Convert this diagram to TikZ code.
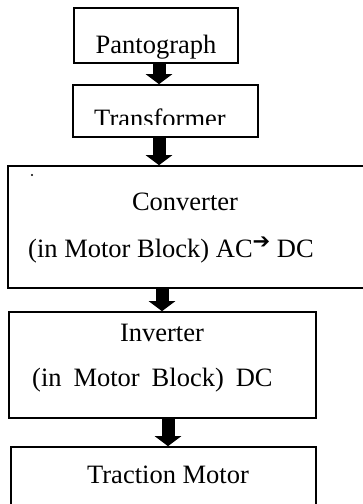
\documentclass[tikz,border=0pt]{standalone}
\usepackage{fontspec}
\setmainfont{Liberation Serif}
\newfontfamily\symfont{DejaVu Sans}
\usetikzlibrary{arrows.meta}

\begin{document}
\begin{tikzpicture}[x=1pt,y=-1pt,
  box/.style={draw, line width=1.6pt, rectangle, inner sep=0pt},
  lbl/.style={inner sep=0pt, font=\fontsize{26.5}{30}\selectfont},
  flow/.style={line width=13pt, -{Triangle[width=26pt,length=10pt]}},
]
\useasboundingbox (0,0) rectangle (363,504);
\clip (0,0) rectangle (363,504);

% blocks of the drive chain
\node[box, minimum width=164pt, minimum height=55pt]  (pant)  at (156,35.5) {};
\node[box, minimum width=185pt, minimum height=52pt]  (trans) at (165.5,111) {};
\node[box, minimum width=362pt, minimum height=122pt] (conv)  at (189,227) {};
\node[box, minimum width=307pt, minimum height=106pt] (inv)   at (162.5,365) {};
\node[box, minimum width=305pt, minimum height=86pt]  (trac)  at (163.5,490) {};

% labels (the two upper ones are cut off at the bottom)
\begin{scope}
  \clip (0,0) rectangle (363,59);
  \node[lbl, anchor=base] (pantT) at (156,53) {Pantograph};
\end{scope}
\begin{scope}
  \clip (0,86) rectangle (363,124.5);
  \node[lbl, anchor=base] (transT) at (160,127.5) {Transformer};
\end{scope}
\node[lbl, anchor=base] (convA) at (185,210) {Converter};
\node[lbl, anchor=base west] (convB) at (28,257)
  {(in Motor Block) AC\raisebox{9pt}{\symfont\fontsize{21}{21}\selectfont ➔}\ DC};
\node[lbl, anchor=base] (invA) at (162,341) {Inverter};
\node[lbl, anchor=base west] (invB) at (32,386)
  {(in\hspace{0.45em}Motor\hspace{0.45em}Block)\hspace{0.45em}DC};
\node[lbl, anchor=base] (tracT) at (168,483) {Traction Motor};

% speck inside the converter block
\fill (32,175) circle (1.2);

% block arrows between the stages
\draw[flow] ([xshift=3pt]pant.south) -- ([xshift=3pt]pant.south |- trans.north);
\draw[flow] ([xshift=-6.5pt]trans.south) -- ([xshift=-6.5pt]trans.south |- conv.north);
\draw[flow] ([xshift=-27pt]conv.south) -- ([xshift=-27pt]conv.south |- inv.north);
\draw[flow] ([xshift=5.5pt]inv.south) -- ([xshift=5.5pt]inv.south |- trac.north);
\end{tikzpicture}
\end{document}
